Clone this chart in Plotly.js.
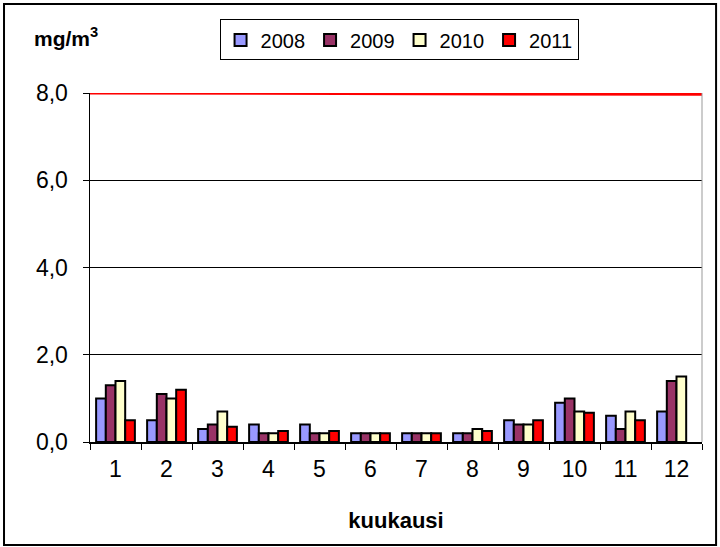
<!DOCTYPE html>
<html><head><meta charset="utf-8">
<script src="https://cdn.plot.ly/plotly-3.0.1.min.js"></script>
<style>html,body{margin:0;padding:0;background:#fff}#c{width:720px;height:547px}</style>
</head><body><div id="c"></div>
<script>
const months = ["1","2","3","4","5","6","7","8","9","10","11","12"];
const v2008 = [1.0,0.5,0.3,0.4,0.4,0.2,0.2,0.2,0.5,0.9,0.6,0.7];
const v2009 = [1.3,1.1,0.4,0.2,0.2,0.2,0.2,0.2,0.4,1.0,0.3,1.4];
const v2010 = [1.4,1.0,0.7,0.2,0.2,0.2,0.2,0.3,0.4,0.7,0.7,1.5];
const v2011 = [0.5,1.2,0.35,0.25,0.25,0.2,0.2,0.25,0.5,0.67,0.5,null];
const seriesNames = ["2008","2009","2010","2011"];
const seriesColors = ["#9999FF","#993366","#FFFFCC","#FF0000"];
const limitValue = 8.0;
const yTicks = [0,2,4,6,8];

const vals = [v2008,v2009,v2010,v2011];
const traces = vals.map((v,i)=>({
  type:"bar", x:months, y:v, name:seriesNames[i],
  marker:{color:seriesColors[i], line:{color:"#000", width:2}}
}));

const font = {family:"Liberation Sans, Arial, sans-serif", color:"#000"};
const F = s => Object.assign({size:s}, font);
const layout = {
  width:720, height:547,
  margin:{l:90, r:18, t:93, b:105, autoexpand:false},
  paper_bgcolor:"#fff", plot_bgcolor:"#fff",
  separators:",.",
  barmode:"group", bargap:0.24, bargroupgap:0,
  font:F(22),
  showlegend:true,
  legend:{orientation:"h", x:0.505, xanchor:"center", y:1.152, yanchor:"middle",
    bordercolor:"#000", borderwidth:1, font:F(20),
    itemwidth:30, tracegroupgap:0, traceorder:"normal"},
  xaxis:{type:"category", tickson:"boundaries", ticks:"outside", ticklen:6, tickcolor:"#000",
    showline:true, linecolor:"#000", linewidth:1.5, showgrid:false,
    tickfont:F(23), ticklabelstandoff:6,
    title:{text:"<b>kuukausi</b>", font:F(22), standoff:31}},
  yaxis:{range:[0,8], tickvals:yTicks, tickformat:".1f", ticks:"outside", ticklen:6, tickcolor:"#000",
    showline:true, linecolor:"#000", linewidth:1.5, showgrid:true, gridcolor:"#000", gridwidth:1,
    zeroline:false, tickfont:F(23), ticklabelstandoff:10},
  shapes:[
    {type:"line", xref:"paper", yref:"y", x0:0, x1:1, y0:limitValue, y1:limitValue-0.03,
     line:{color:"#FF0000", width:3}},
    {type:"line", xref:"paper", yref:"paper", x0:1, x1:1, y0:0, y1:1, line:{color:"#999", width:1}},
    {type:"rect", xref:"paper", yref:"paper", x0:-0.1405, x1:1.023, y0:-0.295, y1:1.255,
     line:{color:"#000", width:2}}
  ],
  annotations:[
    {xref:"paper", yref:"paper", x:-0.094, y:1.16, xanchor:"left", yanchor:"middle", showarrow:false,
     text:"<b>mg/m<sup>3</sup></b>", font:F(21)}
  ]
};
Plotly.newPlot("c", traces, layout, {staticPlot:true, displayModeBar:false});
</script></body></html>
